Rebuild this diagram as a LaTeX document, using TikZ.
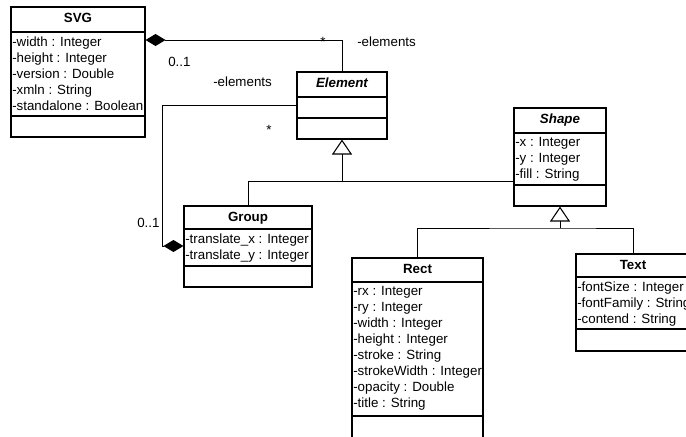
\documentclass[tikz,border=0pt]{standalone}
\usepackage{fontspec}
\setmainfont{Liberation Sans}
\usetikzlibrary{arrows.meta}
\tikzset{
  cls/.style={draw, line width=0.8pt, inner sep=0pt, fill=white},
  sep/.style={line width=0.8pt},
  ttl/.style={anchor=base, inner sep=0pt, font=\fontsize{10pt}{12pt}\selectfont\bfseries},
  attr/.style={anchor=base west, inner sep=0pt, font=\fontsize{10pt}{12pt}\selectfont},
  lbl/.style={inner sep=0pt, font=\fontsize{10pt}{12pt}\selectfont},
  conn/.style={line width=0.75pt},
  agg/.style={conn, {Diamond[length=15pt, width=9pt]}-},
  gen/.style={conn, -{Triangle[open, length=11.25pt, width=15pt, line width=0.8pt]}},
}
\begin{document}
\begin{tikzpicture}[x=0.75pt, y=-0.75pt]
\useasboundingbox (0,0) rectangle (686,436);
\clip (0,0) rectangle (686,436);

% ---------- class boxes ----------
\node[cls, minimum width=100.5pt, minimum height=97.5pt] (svg) at (78,72) {};
\node[cls, minimum width=67.5pt, minimum height=50.25pt] (element) at (342,105.5) {};
\node[cls, minimum width=96pt, minimum height=60.75pt] (group) at (248,246.5) {};
\node[cls, minimum width=69pt, minimum height=73.5pt] (shape) at (560,157) {};
\node[cls, minimum width=98.25pt, minimum height=144pt] (rect) at (417.5,354) {};
\node[cls, minimum width=85.5pt, minimum height=72.75pt] (text) at (633,302.5) {};

% compartments
\draw[sep] (svg.west |- 0,32) -- (svg.east |- 0,32);
\draw[sep] (svg.west |- 0,116) -- (svg.east |- 0,116);
\draw[sep] (element.west |- 0,97) -- (element.east |- 0,97);
\draw[sep] (element.west |- 0,118) -- (element.east |- 0,118);
\draw[sep] (group.west |- 0,229) -- (group.east |- 0,229);
\draw[sep] (group.west |- 0,266) -- (group.east |- 0,266);
\draw[sep] (shape.west |- 0,133) -- (shape.east |- 0,133);
\draw[sep] (shape.west |- 0,185) -- (shape.east |- 0,185);
\draw[sep] (rect.west |- 0,282) -- (rect.east |- 0,282);
\draw[sep] (rect.west |- 0,416) -- (rect.east |- 0,416);
\draw[sep] (text.west |- 0,277) -- (text.east |- 0,277);
\draw[sep] (text.west |- 0,329) -- (text.east |- 0,329);

% titles
\node[ttl] (svgt) at (78,22.5) {SVG};
\node[ttl, font=\fontsize{10pt}{12pt}\selectfont\bfseries\itshape] (elementt) at (342,87.5) {Element};
\node[ttl] (groupt) at (248,221) {Group};
\node[ttl, font=\fontsize{10pt}{12pt}\selectfont\bfseries\itshape] (shapet) at (560,123.5) {Shape};
\node[ttl] (rectt) at (417.5,273.5) {Rect};
\node[ttl] (textt) at (633,269.5) {Text};

% attributes
\foreach \t [count=\i] in {-width : Integer, -height : Integer, -version : Double, -xmln : String, -standalone : Boolean}
  \node[attr] (svga\i) at (12,{46+16*(\i-1)}) {\t};
\foreach \t [count=\i] in {-translate\_x : Integer, -translate\_y : Integer}
  \node[attr] (groupa\i) at (185,{243.5+16*(\i-1)}) {\t};
\foreach \t [count=\i] in {-x : Integer, -y : Integer, -fill : String}
  \node[attr] (shapea\i) at (515,{146.5+16*(\i-1)}) {\t};
\foreach \t [count=\i] in {-rx : Integer, -ry : Integer, -width : Integer, -height : Integer, -stroke : String, -strokeWidth : Integer, -opacity : Double, -title : String}
  \node[attr] (recta\i) at (353,{295.5+16*(\i-1)}) {\t};
\foreach \t [count=\i] in {-fontSize : Integer, -fontFamily : String, -contend : String}
  \node[attr] (texta\i) at (577,{291+16*(\i-1)}) {\t};

% ---------- connectors ----------
\draw[agg] (svg.east |- 0,40) -| (element.north);
\coordinate (bend) at (162,105);
\draw[agg] (group.west |- 0,246) -| (bend) -- (element.west |- bend);

\coordinate (j1) at (342,181);
\draw[conn] (group.north) |- (shape.west |- j1);
\draw[gen] (j1) -- (element.south);

\coordinate (j2) at (560,228);
\draw[conn] (rect.north) |- (j2) -| (text.north);
\draw[gen] (j2) -- (shape.south);

% labels
\node[lbl, anchor=base west] (m1) at (168,66) {0..1};
\node[lbl, anchor=base] (s1) at (323,46) {*};
\node[lbl, anchor=base west] (e1) at (357,46) {-elements};
\node[lbl, anchor=base west] (e2) at (213,86) {-elements};
\node[lbl, anchor=base] (s2) at (269,134) {*};
\node[lbl, anchor=base west] (m2) at (137,227) {0..1};
\end{tikzpicture}
\end{document}
